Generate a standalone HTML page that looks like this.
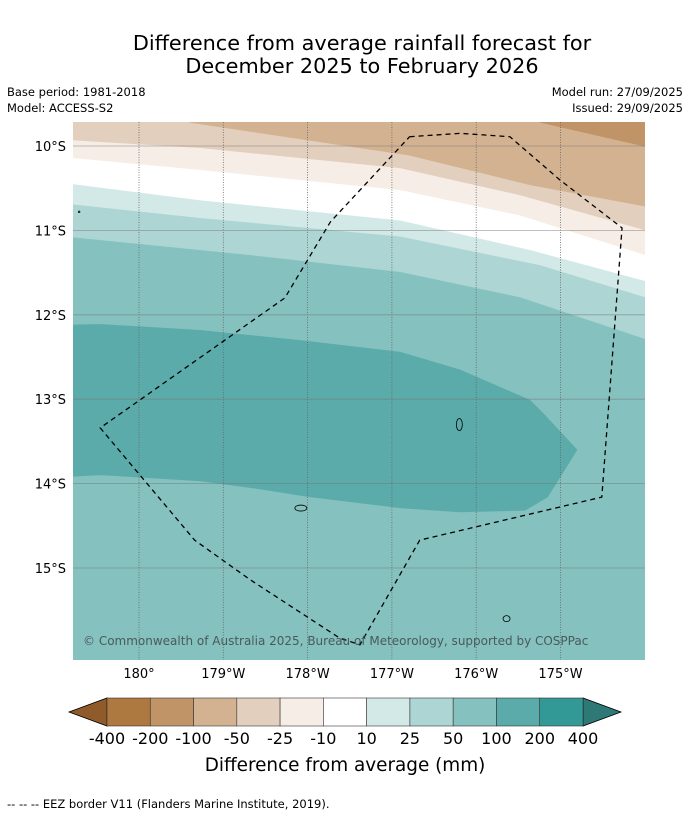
<!DOCTYPE html>
<html><head><meta charset="utf-8"><style>
body{margin:0;background:#fff;font-family:"Liberation Sans","DejaVu Sans",sans-serif;}
svg text{font-family:"DejaVu Sans","Liberation Sans",sans-serif;}
</style></head><body>
<svg id="chart" width="690" height="816" xmlns="http://www.w3.org/2000/svg">
<text x="362" y="50" font-size="20.8" text-anchor="middle">Difference from average rainfall forecast for</text>
<text x="362" y="73" font-size="20.8" text-anchor="middle">December 2025 to February 2026</text>
<text x="7" y="96" font-size="11.5">Base period: 1981-2018</text>
<text x="7" y="112" font-size="11.5">Model: ACCESS-S2</text>
<text x="683" y="96" font-size="11.5" text-anchor="end">Model run: 27/09/2025</text>
<text x="683" y="112" font-size="11.5" text-anchor="end">Issued: 29/09/2025</text>
<defs><clipPath id="pc"><rect x="73" y="122" width="572" height="538"/></clipPath></defs>
<g id="plot" clip-path="url(#pc)"></g>
<g id="axes"></g>
<g id="cbar"></g>
<text x="345" y="771" font-size="18.4" text-anchor="middle">Difference from average (mm)</text>
<text x="7" y="808" font-size="11.5">--  --  -- EEZ border V11 (Flanders Marine Institute, 2019).</text>
</svg>
<script>
const NS="http://www.w3.org/2000/svg";
// ---- data ----
const lonTicks=[180,181,182,183,184,185];
const lonLabels=["180°","179°W","178°W","177°W","176°W","175°W"];
const latTicks=[10,11,12,13,14,15];
const latLabels=["10°S","11°S","12°S","13°S","14°S","15°S"];
const levelLabels=["-400","-200","-100","-50","-25","-10","10","25","50","100","200","400"];
const levelColors=["#ae7841","#c19468","#d3b291","#e3cfbd","#f5ede6","#ffffff","#d3e9e7","#acd5d4","#84c1bf","#5aabaa","#329996"];
const extColors=["#8f5b2a","#2e7875"];
// contour lower boundaries (lon east, lat south), listed bottom band first
const line25_50=[[179.0,11.08],[179.22,11.08],[181.32,11.29],[183.10,11.49],[184.52,11.79],[186.2,12.35]];
const line10_25=[[179.0,10.69],[179.22,10.69],[180.72,10.85],[183.10,11.07],[184.76,11.41],[186.2,11.85]];
const lineWhite=[[179.0,10.45],[179.22,10.45],[180.72,10.64],[183.10,10.88],[184.64,11.23],[186.2,11.65]];
const lineM10=[[179.0,10.14],[179.22,10.14],[180.72,10.28],[183.10,10.52],[184.52,10.82],[186.2,11.35]];
const lineM25=[[179.0,9.93],[179.22,9.93],[180.72,10.02],[183.10,10.26],[184.52,10.58],[186.2,11.05]];
const lineM50=[[180.50,9.6],[180.60,9.72],[183.21,10.11],[184.64,10.46],[186.2,10.75]];
const lineM100=[[184.60,9.6],[184.76,9.72],[186.2,10.05]];
const region100=[[179.0,12.12],[179.54,12.11],[180.72,12.18],[181.91,12.30],[183.10,12.44],[183.81,12.65],[184.64,13.01],[184.82,13.19],[185.20,13.60],[184.85,14.16],[184.58,14.32],[183.81,14.34],[183.10,14.29],[182.03,14.16],[181.32,14.05],[180.72,13.97],[179.54,13.90],[179.0,13.93]];
const eez=[[183.21,9.89],[183.81,9.85],[184.40,9.89],[184.99,10.40],[185.73,10.97],[185.49,14.16],[183.33,14.67],[182.62,15.91],[182.38,15.83],[181.32,15.14],[180.66,14.67],[179.54,13.34],[181.73,11.80],[182.27,10.90],[183.21,9.89]];
const islands=[[183.80,13.30,3,6],[181.92,14.29,6,3],[184.36,15.60,3.5,3],[179.12,15.75,4,1.5],[179.29,10.78,0.8,0.8]];
// ---- scales ----
const X=l=>139+(l-180)*84.3, Y=l=>146+(l-10)*84.4;
const plot=document.getElementById('plot'), axes=document.getElementById('axes'), cbar=document.getElementById('cbar');
function mk(tag,attrs,parent){const e=document.createElementNS(NS,tag);for(const k in attrs)e.setAttribute(k,attrs[k]);parent.appendChild(e);return e;}
const bg=mk('rect',{x:73,y:122,width:572,height:538,fill:levelColors[8]},plot);


const bands=[[line25_50,7,'band-25-50'],[line10_25,6,'band-10-25'],[lineWhite,5,'band-neutral'],[lineM10,4,'band-minus10-minus25'],[lineM25,3,'band-minus25-minus50'],[lineM50,2,'band-minus50-minus100'],[lineM100,1,'band-minus100-minus200']];
bands.forEach(([ln,ci,nm])=>{
  const pts=ln.map(p=>X(p[0])+','+Y(p[1]));
  pts.push(X(ln[ln.length-1][0])+',100',X(ln[0][0])+',100');
  const p=mk('polygon',{points:pts.join(' '),fill:levelColors[ci],stroke:levelColors[ci],'stroke-width':0.5},plot);
  
  
});
const r1=mk('polygon',{points:region100.map(p=>X(p[0])+','+Y(p[1])).join(' '),fill:levelColors[9]},plot);


islands.forEach(s=>{const e=mk('ellipse',{cx:X(s[0]),cy:Y(s[1]),rx:s[2],ry:s[3],fill:'none',stroke:'#000','stroke-width':0.8},plot);

});
lonTicks.forEach((t,i)=>{const g=mk('line',{x1:X(t),x2:X(t),y1:122,y2:660,stroke:'#666','stroke-width':0.8,'stroke-dasharray':'1,1.5'},plot);


const tx=mk('text',{x:X(t),y:678,'font-size':13,'text-anchor':'middle'},axes);tx.textContent=lonLabels[i];

});
latTicks.forEach((t,i)=>{const g=mk('line',{x1:73,x2:645,y1:Y(t),y2:Y(t),stroke:'#777','stroke-width':0.8,'stroke-opacity':0.6},plot);


const tx=mk('text',{x:66,y:Y(t)+5,'font-size':13,'text-anchor':'end'},axes);tx.textContent=latLabels[i];

});
const ez=mk('polyline',{points:eez.map(p=>X(p[0])+','+Y(p[1])).join(' '),fill:'none',stroke:'#000','stroke-width':1.3,'stroke-dasharray':'5,4'},plot);


const cp=mk('text',{x:83,y:645,'font-size':12,fill:'#4a5a5a'},plot);cp.textContent='© Commonwealth of Australia 2025, Bureau of Meteorology, supported by COSPPac';


// colorbar
const cx0=107,cw=(583-107)/levelColors.length,cy=698,ch=28;
const e1=mk('polygon',{points:`${cx0},${cy} ${cx0},${cy+ch} 69,${cy+ch/2}`,fill:extColors[0],stroke:'#000','stroke-width':0.8},cbar);


const e2=mk('polygon',{points:`583,${cy} 583,${cy+ch} 621,${cy+ch/2}`,fill:extColors[1],stroke:'#000','stroke-width':0.8},cbar);


levelColors.forEach((c,i)=>{const r=mk('rect',{x:cx0+i*cw,y:cy,width:cw,height:ch,fill:c,stroke:'#333','stroke-width':0.6},cbar);

});
levelLabels.forEach((l,i)=>{const t=mk('text',{x:cx0+i*cw,y:744,'font-size':16,'text-anchor':'middle'},cbar);t.textContent=l;

});
</script>
</body></html>
